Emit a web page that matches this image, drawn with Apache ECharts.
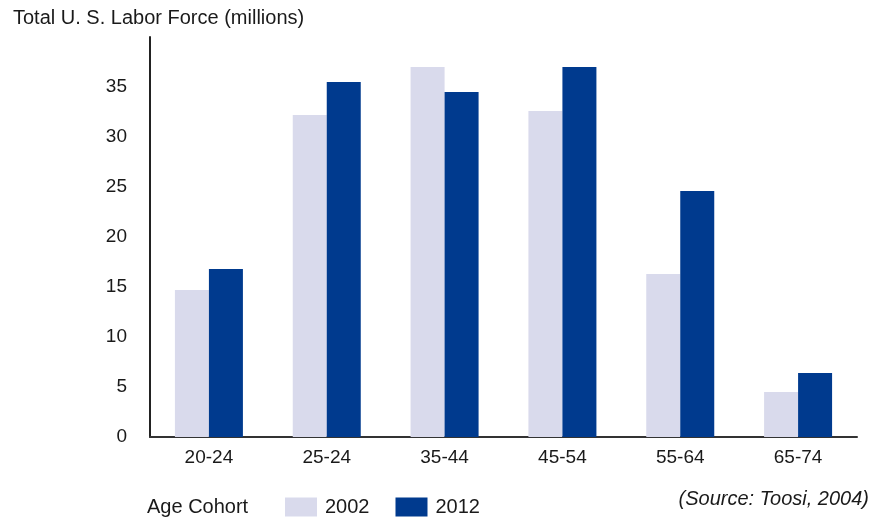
<!DOCTYPE html>
<html>
<head>
<meta charset="utf-8">
<script src="https://cdn.jsdelivr.net/npm/echarts@6/dist/echarts.min.js"></script>
<style>html,body{margin:0;padding:0;background:#fff;}#c{width:874px;height:521px;}</style>
</head>
<body>
<div id="c"></div>
<script>
const categories = ['20-24', '25-24', '35-44', '45-54', '55-64', '65-74'];
const values2002 = [14.7, 32.2, 37.0, 32.6, 16.3, 4.5];
const values2012 = [16.8, 35.5, 34.5, 37.0, 24.6, 6.4];
const seriesNames = ['2002', '2012'];

const chart = echarts.init(document.getElementById('c'));
const font = 'Liberation Sans, Arial, Helvetica, sans-serif';
chart.setOption({
  backgroundColor: '#ffffff',
  animation: false,
  title: [
    { text: 'Total U. S. Labor Force (millions)', left: 8, top: 3,
      textStyle: { fontFamily: font, fontSize: 20, fontWeight: 'normal', color: '#1a1a1a' } },
    { text: '(Source: Toosi, 2004)', right: 0, top: 484,
      textStyle: { fontFamily: font, fontSize: 20, fontWeight: 'normal', fontStyle: 'italic', color: '#1a1a1a' } },
    { text: 'Age Cohort', left: 142, top: 492,
      textStyle: { fontFamily: font, fontSize: 20, fontWeight: 'normal', color: '#1a1a1a' } }
  ],
  legend: {
    left: 280, top: 492,
    itemWidth: 32, itemHeight: 19, itemGap: 26,
    icon: 'rect',
    textStyle: { fontFamily: font, fontSize: 20, color: '#1a1a1a', padding: [0, 0, 0, 3] },
    data: seriesNames
  },
  grid: { left: 150, right: 17, top: 37, bottom: 84 },
  xAxis: {
    type: 'category',
    data: categories,
    axisLine: { lineStyle: { color: '#333', width: 2 } },
    axisTick: { show: false },
    axisLabel: { fontFamily: font, fontSize: 19, color: '#1a1a1a', margin: 11 }
  },
  yAxis: {
    type: 'value', min: 0, max: 40, interval: 5,
    axisLine: { show: true, lineStyle: { color: '#222', width: 2 } },
    axisTick: { show: false },
    splitLine: { show: false },
    axisLabel: { fontFamily: font, fontSize: 19, color: '#1a1a1a', margin: 23, showMaxLabel: false }
  },
  series: [
    { name: seriesNames[0], type: 'bar', data: values2002, barWidth: 34, barGap: '0%',
      itemStyle: { color: '#d9daec' } },
    { name: seriesNames[1], type: 'bar', data: values2012, barWidth: 34, barGap: '0%',
      itemStyle: { color: '#003a8e' } }
  ]
});
</script>
</body>
</html>
